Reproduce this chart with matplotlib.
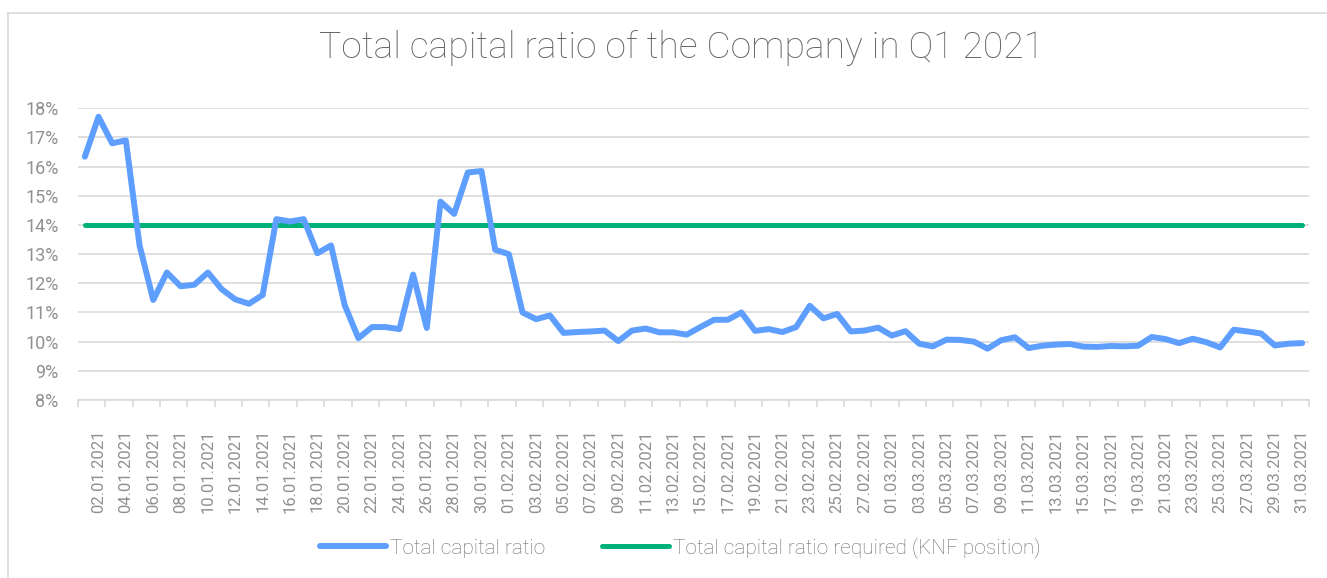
import matplotlib.pyplot as plt
import matplotlib.ticker as mticker
import pandas as pd
from matplotlib.lines import Line2D

plt.rcParams['font.family'] = ['Roboto', 'DejaVu Sans']
plt.rcParams['font.weight'] = 'light'

# daily values, 01.01.2021 - 31.03.2021
dates = pd.date_range('2021-01-01', '2021-03-31', freq='D')
ratio = [16.34, 17.71, 16.8, 16.9, 13.3, 11.43, 12.37, 11.9, 11.95, 12.37,
         11.8, 11.45, 11.3, 11.6, 14.2, 14.12, 14.2, 13.03, 13.3, 11.25,
         10.12, 10.5, 10.5, 10.43, 12.3, 10.47, 14.8, 14.38, 15.8, 15.85,
         13.15, 13.0, 11.0, 10.77, 10.9, 10.3, 10.33, 10.35, 10.38, 10.02,
         10.38, 10.45, 10.32, 10.32, 10.24, 10.5, 10.75, 10.75, 11.0, 10.37,
         10.43, 10.33, 10.5, 11.23, 10.8, 10.95, 10.35, 10.38, 10.48, 10.21,
         10.36, 9.93, 9.84, 10.07, 10.06, 10.0, 9.76, 10.05, 10.15, 9.78,
         9.86, 9.9, 9.92, 9.83, 9.82, 9.85, 9.84, 9.86, 10.16, 10.09,
         9.95, 10.1, 9.98, 9.8, 10.41, 10.35, 10.28, 9.87, 9.93, 9.95]
required = [14.0] * len(dates)

labels = [d.strftime('%d.%m.%Y') for d in dates]
x = list(range(len(dates)))

W, H = 1327, 578
fig = plt.figure(figsize=(W / 100, H / 100), dpi=100)
ax = fig.add_axes([78 / W, 1 - 400 / H, (1309 - 78) / W, (400 - 108.3) / H])

ax.plot(x, ratio, color='#5E9EFF', lw=4.3, solid_capstyle='round',
        solid_joinstyle='round', label='Total capital ratio', zorder=3)
ax.plot(x, required, color='#00B27A', lw=3.6, solid_capstyle='round',
        label='Total capital ratio required (KNF position)', zorder=2)

ax.set_xlim(-0.5, len(x) - 0.5)
ax.set_ylim(8, 18)
ax.yaxis.set_major_locator(mticker.MultipleLocator(1))
ax.yaxis.set_major_formatter(mticker.FuncFormatter(lambda v, p: f'{v:.0f}%'))
ax.grid(axis='y', color='#d9d9d9', lw=1.2)
ax.set_axisbelow(True)

ax.set_xticks(x[1::2])
ax.set_xticklabels(labels[1::2], rotation=90, fontweight='normal')
ax.set_xticks([i - 0.5 for i in x[::2]] + [len(x) - 0.5], minor=True)
ax.tick_params(axis='x', which='major', length=0, pad=21, labelsize=12,
               labelcolor='#909090')
ax.tick_params(axis='x', which='minor', length=5, color='#d9d9d9', width=1.2)
ax.tick_params(axis='y', length=0, pad=14, labelsize=13, labelcolor='#909090')
for t in ax.get_yticklabels():
    t.set_fontweight('normal')

for s in ['top', 'right', 'left']:
    ax.spines[s].set_visible(False)
ax.spines['bottom'].set_color('#d9d9d9')
ax.spines['bottom'].set_linewidth(1.2)

fig.text(681 / W, 1 - 58 / H, 'Total capital ratio of the Company in Q1 2021',
         ha='center', va='baseline', fontsize=26.8, color='#666666')

fig.legend(loc='center', bbox_to_anchor=(680 / W, 1 - 548 / H), ncol=2,
           frameon=False, fontsize=15, handlelength=3.2, handletextpad=0.2,
           columnspacing=2.7, labelcolor='#6e6e6e')

# chart area border (top and left edges visible)
fig.add_artist(Line2D([8.3 / W, 8.3 / W], [0, 1 - 12.7 / H],
                      transform=fig.transFigure, color='#d9d9d9', lw=1.2))
fig.add_artist(Line2D([8.3 / W, 1], [1 - 12.7 / H, 1 - 12.7 / H],
                      transform=fig.transFigure, color='#d9d9d9', lw=1.2))

fig.savefig('out.png', dpi=100)
